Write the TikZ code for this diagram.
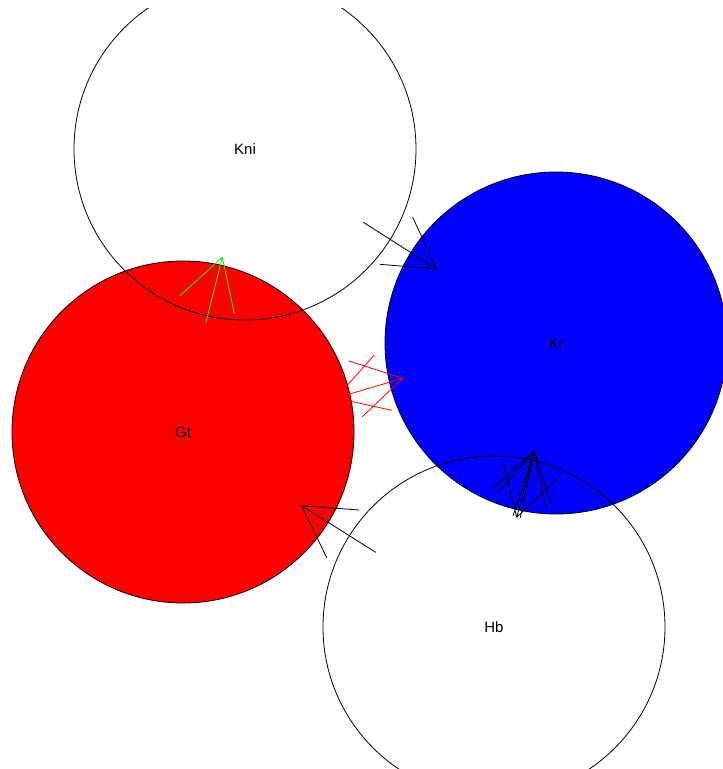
\documentclass[tikz,border=0pt]{standalone}
\usepackage{fontspec}
\setmainfont{Liberation Sans}
\begin{document}
\begin{tikzpicture}[x=1pt,y=-1pt,
  gene/.style={circle, draw=black, line width=0.8pt, minimum size=342pt, inner sep=0pt, outer sep=0pt, font=\fontsize{15}{18}\selectfont},
  edgeline/.style={line width=0.8pt, line cap=round}]
\useasboundingbox (0,0) rectangle (723,769);
\begin{scope}
\clip (0,8) rectangle (723,769);
% genes
\node[gene, fill=red]  (Gt)  at (183,432) {Gt};
\node[gene, fill=blue] (Kr)  at (556,343) {Kr};
\node[gene]            (Kni) at (245,149) {Kni};
\node[gene]            (Hb)  at (494,627) {Hb};

% Kni -> Kr
\coordinate (kkT) at (436.7,269);
\coordinate (kkS) at (363.3,222.3);
\coordinate (kkA) at (380,264.3);
\coordinate (kkB) at (412.7,217.3);
\draw[edgeline, black] (kkS) -- (kkT) (kkA) -- (kkT) (kkB) -- (kkT);

% Gt -> Kni (green)
\coordinate (gkT) at (222.3,257.3);
\coordinate (gkS) at (205.7,323.3);
\coordinate (gkA) at (180,295.7);
\coordinate (gkB) at (234.3,313.3);
\draw[edgeline, green] (gkS) -- (gkT) (gkA) -- (gkT) (gkB) -- (gkT);

% Gt <-> Kr (red)
\coordinate (grT1) at (402.7,378.3);
\coordinate (grT2) at (336,398);
\coordinate (grA1) at (349,361);
\coordinate (grB1) at (362.3,416.7);
\coordinate (grA2) at (374.3,355);
\coordinate (grB2) at (391.7,410.3);
\draw[edgeline, red] (grT2) -- (grT1) (grA1) -- (grT1) (grB1) -- (grT1)
  (grA2) -- (grT2) (grB2) -- (grT2);

% Hb -> Gt
\coordinate (hgT) at (301.7,505.7);
\coordinate (hgS) at (375.7,552.3);
\coordinate (hgA) at (359,510);
\coordinate (hgB) at (326.7,557.7);
\draw[edgeline, black] (hgS) -- (hgT) (hgA) -- (hgT) (hgB) -- (hgT);

% Hb <-> Kr cluster
\coordinate (hkT) at (534.3,451);
\coordinate (hkB) at (516.7,517.3);
\coordinate (hkS1) at (513.1,515.6);
\coordinate (hkS2) at (520.4,517.6);
\coordinate (hkA1) at (491.7,489.3);
\coordinate (hkA2) at (496.7,494);
\coordinate (hkC1) at (545.7,506.7);
\coordinate (hkC2) at (551.7,506);
\coordinate (hkD1) at (503.3,462.3);
\coordinate (hkD2) at (557.7,478.3);
\draw[edgeline, black] (hkB) -- (hkT) (hkS1) -- (hkT) (hkS2) -- (hkT)
  (hkA1) -- (hkT) (hkA2) -- (hkT) (hkC1) -- (hkT) (hkC2) -- (hkT)
  (hkD1) -- (hkB) (hkD2) -- (hkB);
\end{scope}
\end{tikzpicture}
\end{document}
